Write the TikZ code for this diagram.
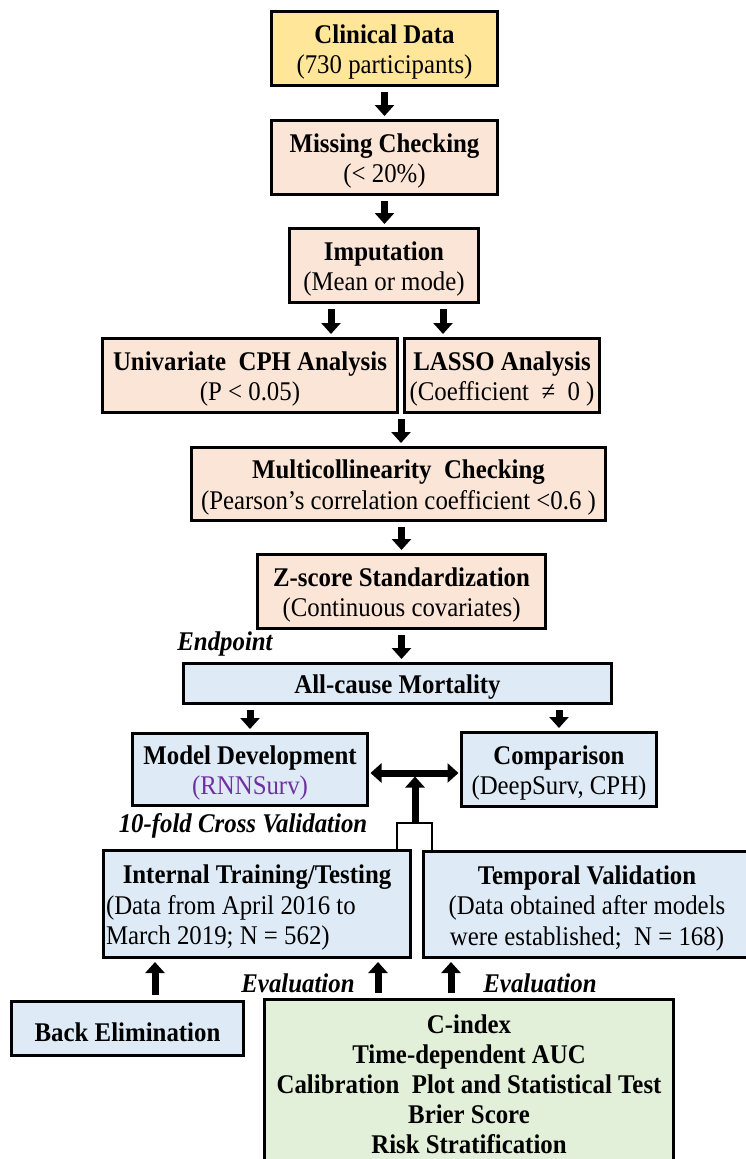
\documentclass[tikz,border=0pt]{standalone}
\usepackage{fontspec}
\setmainfont{Liberation Serif}[FakeStretch=0.92]
\usetikzlibrary{arrows.meta,calc}
\definecolor{yel}{HTML}{FFE699}
\definecolor{peach}{HTML}{FBE5D6}
\definecolor{lblue}{HTML}{DEEBF7}
\definecolor{lgreen}{HTML}{E2F0D9}
\definecolor{purp}{HTML}{7030A0}
\newcommand\tup{\rule{0pt}{26pt}}
\begin{document}
\begin{tikzpicture}[x=1pt,y=-1pt,
  box/.style={draw=black, line width=3pt, inner sep=2pt, align=center,
              font=\fontsize{27}{30.5}\selectfont},
  lab/.style={inner sep=0pt, font=\fontsize{27}{31}\selectfont\bfseries\itshape},
  arr/.style={line width=7pt, -{Triangle[width=19pt,length=11pt]},
              shorten <=5pt, shorten >=3pt},
  dblarr/.style={line width=7pt, {Triangle[width=19pt,length=11pt]}-{Triangle[width=19pt,length=11pt]},
              shorten <=1.5pt, shorten >=1.5pt},
  brkline/.style={line width=2.5pt},
]
\useasboundingbox (0,0) rectangle (746,1159);
\fill[white] (0,0) rectangle (746,1159);

\node[box, fill=yel, minimum width=226pt, minimum height=74pt] (clin) at (384.5,48.5)
  {\tup\textbf{Clinical Data}\\(730 participants)};
\node[box, fill=peach, minimum width=226pt, minimum height=74pt] (miss) at (384.5,157.5)
  {\tup\textbf{Missing Checking}\\(< 20\%)};
\node[box, fill=peach, minimum width=189pt, minimum height=74pt] (imp) at (384,265.5)
  {\tup\textbf{Imputation}\\(Mean or mode)};
\node[box, fill=peach, minimum width=295pt, minimum height=74pt] (uni) at (250,375.5)
  {\tup\textbf{Univariate\ \ CPH Analysis}\\(P < 0.05)};
\node[box, fill=peach, minimum width=195pt, minimum height=74pt] (lasso) at (502,375.5)
  {\tup\textbf{LASSO Analysis}\\(Coefficient\ \ ≠\ \ 0 )};
\node[box, fill=peach, minimum width=414pt, minimum height=73pt] (multi) at (398.5,484)
  {\tup\textbf{Multicollinearity\ \ Checking}\\(Pearson’s correlation coefficient <0.6 )};
\node[box, fill=peach, minimum width=288pt, minimum height=74pt] (zs) at (401.5,591.5)
  {\tup\textbf{Z-score Standardization}\\(Continuous covariates)};
\node[box, fill=lblue, minimum width=428pt, minimum height=40pt] (all) at (397.5,683.5)
  {\tup\textbf{All-cause Mortality}};
\node[box, fill=lblue, minimum width=235pt, minimum height=72pt] (mdev) at (250,769.5)
  {\tup\textbf{Model Development}\\\textcolor{purp}{(RNNSurv)}};
\node[box, fill=lblue, minimum width=195pt, minimum height=74pt] (comp) at (559,769.5)
  {\tup\textbf{Comparison}\\(DeepSurv, CPH)};
\node[box, fill=lblue, minimum width=307pt, minimum height=107pt, align=left] (intl) at (257,904)
  {\tup\makebox[302pt][c]{\textbf{Internal Training/Testing}}\\(Data from April 2016 to\\March 2019; N = 562)};
\node[box, fill=lblue, minimum width=327pt, minimum height=106pt] (temp) at (587,904.5)
  {\tup\textbf{Temporal Validation}\\(Data obtained after models\\were established;\ \ N = 168)};
\node[box, fill=lblue, minimum width=232pt, minimum height=54pt] (back) at (127.5,1028.5)
  {\tup\textbf{Back Elimination}};
\node[box, fill=lgreen, minimum width=409pt, minimum height=169pt, font=\fontsize{27}{30}\selectfont\bfseries] (green) at (469,1084)
  {C-index\\Time-dependent AUC\\Calibration\ \ Plot and Statistical Test\\Brier Score\\Risk Stratification};

\node[lab] (endp) at (225,644) {Endpoint};
\node[lab] (cv) at (243,826) {10-fold Cross Validation};
\node[lab] (ev1) at (298,983) {Evaluation};
\node[lab] (ev2) at (540,983) {Evaluation};

% arrows
\draw[arr] (clin.south) -- (miss.north);
\draw[arr] (miss.south) -- (miss.south |- imp.north);
\draw[arr] ([xshift=-53pt]imp.south) -- ([xshift=-53pt]imp.south |- uni.north);
\draw[arr] ([xshift=59pt]imp.south) -- ([xshift=59pt]imp.south |- lasso.north);
\coordinate (ul) at ($(uni.south east)!0.5!(lasso.south west)$);
\draw[arr] (ul) -- (ul |- multi.north);
\draw[arr] (zs.north |- multi.south) -- (zs.north);
\draw[arr] (zs.south) -- (zs.south |- all.north);
\draw[arr] (mdev.north |- all.south) -- (mdev.north);
\draw[arr] (comp.north |- all.south) -- (comp.north);
\draw[dblarr] ([yshift=-3.5pt]mdev.east) -- ([yshift=-3.5pt]comp.west);
\coordinate (dbl) at ($([yshift=-3.5pt]mdev.east)!0.5!([yshift=-3.5pt]comp.west)$);
\coordinate (brk) at (415,823);
\draw[line width=7pt, -{Triangle[width=19pt,length=11pt]}, shorten >=3.5pt] (brk) -- (brk |- dbl);
\coordinate (bl) at (397,823);
\coordinate (bra) at (432,823);
\draw[brkline] (bl |- intl.north) -- (bl) -- (bra) -- (bra |- temp.north);
\draw[arr] ([xshift=27.5pt]back.north) -- ([xshift=27.5pt]back.north |- intl.south);
\draw[arr] ([xshift=-91pt]green.north) -- ([xshift=-91pt]green.north |- intl.south);
\draw[arr] ([xshift=-18pt]green.north) -- ([xshift=-18pt]green.north |- temp.south);
\end{tikzpicture}
\end{document}
